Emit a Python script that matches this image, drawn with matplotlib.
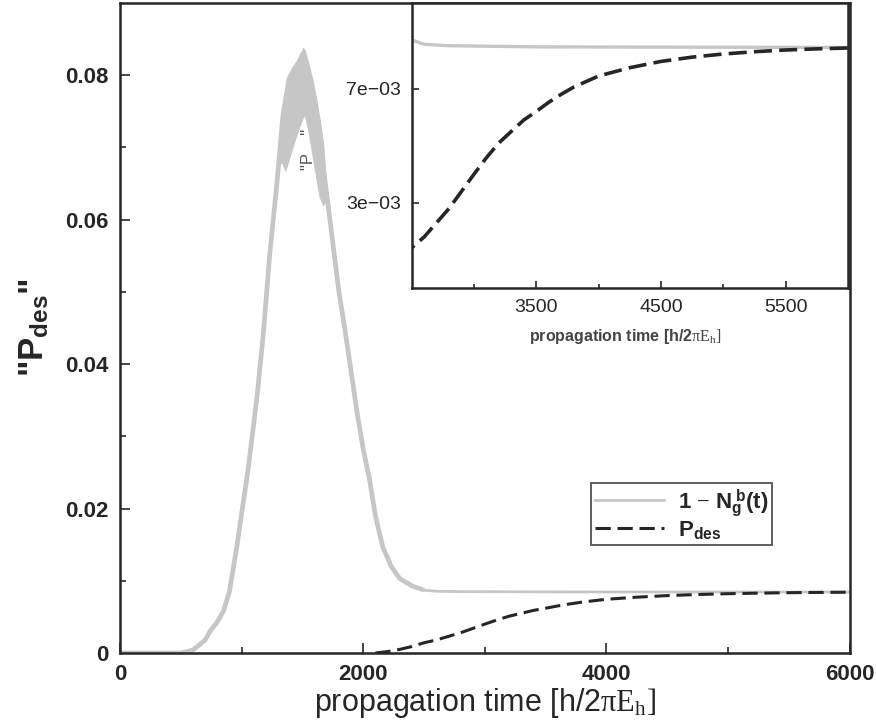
import numpy as np
import matplotlib
matplotlib.use("Agg")
import matplotlib.pyplot as plt

# ---------------------------------------------------------------------------
# data
# ---------------------------------------------------------------------------

# 1 - N_g^b(t), centre of the grey curve
t_gray = [0, 500, 600, 700, 740, 800, 850, 900, 960, 1000, 1050, 1100, 1130,
          1180, 1230, 1290, 1340, 1390, 1430, 1470, 1505, 1540, 1580, 1620,
          1660, 1700, 1726, 1800, 1850, 1900, 1950, 2000, 2050, 2100, 2160,
          2230, 2300, 2400, 2500, 2600, 2800, 3500, 4500, 6000]
v_gray = [0.0, 0.0, 0.0004, 0.0018, 0.0030, 0.0043, 0.0058, 0.0085, 0.0147,
          0.0193, 0.0250, 0.0318, 0.0360, 0.0445, 0.0550, 0.0650, 0.0745,
          0.0795, 0.0808, 0.0818, 0.0830, 0.0810, 0.0780, 0.0740, 0.0685,
          0.0635, 0.0600, 0.0500, 0.0447, 0.0390, 0.0332, 0.0282, 0.0242,
          0.0190, 0.0147, 0.0120, 0.0103, 0.0093, 0.0087, 0.00855, 0.0085,
          0.00846, 0.00845, 0.00844]

# oscillation band round the peak (upper / lower envelope)
t_band = [1300, 1330, 1360, 1400, 1440, 1480, 1505, 1520, 1550, 1580, 1610,
          1640, 1670, 1700]
band_hi = [0.0675, 0.0735, 0.0780, 0.0800, 0.0810, 0.0822, 0.0838, 0.0834,
           0.0815, 0.0795, 0.0770, 0.0740, 0.0705, 0.0640]
band_lo = [0.0675, 0.0680, 0.0668, 0.0690, 0.0712, 0.0732, 0.0742, 0.0745,
           0.0722, 0.0692, 0.0662, 0.0632, 0.0620, 0.0630]

# P_des
t_des = [2100, 2200, 2300, 2400, 2500, 2600, 2700, 2800, 2900, 3000, 3100,
         3200, 3300, 3400, 3500, 3600, 3700, 3800, 4000, 4250, 4500, 4750,
         5000, 5250, 5500, 5750, 6000]
v_des = [0.0, 0.0002, 0.0005, 0.0009, 0.00142, 0.0018, 0.0023, 0.0028,
         0.0034, 0.0040, 0.00458, 0.0051, 0.0055, 0.0059, 0.0062, 0.00652,
         0.0068, 0.00705, 0.00744, 0.00773, 0.00795, 0.0081, 0.00821,
         0.00829, 0.00835, 0.00839, 0.00842]

main_xticks = [0, 2000, 4000, 6000]
main_yticks = [0, 0.02, 0.04, 0.06, 0.08]
main_yticklabels = ["0", "0.02", "0.04", "0.06", "0.08"]
inset_xticks = [3500, 4500, 5500]
inset_yticks = [3e-3, 7e-3]
inset_yticklabels = ["3e\u221203", "7e\u221203"]

# ---------------------------------------------------------------------------

plt.rcParams["font.family"] = ["Liberation Sans", "DejaVu Sans"]
plt.rcParams["mathtext.fontset"] = "custom"
plt.rcParams["mathtext.rm"] = "Liberation Serif"
plt.rcParams["mathtext.it"] = "Liberation Serif:italic"
plt.rcParams["mathtext.bf"] = "Liberation Sans:bold"
plt.rcParams["mathtext.sf"] = "Liberation Sans"

grey = "#c6c6c6"
ink = "#262626"

t_gray = np.array(t_gray)
v_gray = np.array(v_gray)
thick = t_gray <= 2500
thin = t_gray >= 2500

fig = plt.figure(figsize=(8.76, 7.28), dpi=100)
fig.patch.set_facecolor("white")

# main axes
ax = fig.add_axes([0.137, 0.103, 0.833, 0.893])
ax.fill_between(t_band, band_lo, band_hi, color=grey, lw=0.8, ec=grey,
                zorder=2)
ax.plot(t_gray[thick], v_gray[thick], color=grey, lw=3.4,
        solid_capstyle="butt", solid_joinstyle="round", zorder=2)
ax.plot(t_gray[thin], v_gray[thin], color=grey, lw=2.0, zorder=2,
        label=r"1 $-$ N$_\mathbf{g}^{\ \mathbf{b}}$(t)")
ax.plot(t_des, v_des, color=ink, lw=2.2, dashes=(5, 2.2), zorder=3,
        label=r"P$_\mathbf{des}$")

ax.set_xlim(0, 6000)
ax.set_ylim(0, 0.09)
ax.set_xticks(main_xticks)
ax.set_xticks([1000, 3000, 5000], minor=True)
ax.set_yticks(main_yticks)
ax.set_yticklabels(main_yticklabels)
ax.set_yticks([0.01, 0.03, 0.05, 0.07], minor=True)
ax.tick_params(which="both", direction="in", top=False, right=False,
               colors=ink, width=1.2)
ax.tick_params(which="major", length=7, labelsize=16, pad=8)
ax.tick_params(which="minor", length=4)
for lab in ax.get_xticklabels() + ax.get_yticklabels():
    lab.set_fontweight("bold")
for sp in ax.spines.values():
    sp.set_linewidth(1.8)
    sp.set_color(ink)

ax.set_xlabel(r"propagation time [h/2$\mathrm{\pi E_h]}$", fontsize=22,
              color=ink)
ax.xaxis.set_label_coords(0.5, -0.05)
ax.set_ylabel(r'"P$_\mathbf{des}$"', fontsize=25, fontweight="bold",
              color=ink)
ax.yaxis.set_label_coords(-0.094, 0.5)

leg = ax.legend(loc="upper left", bbox_to_anchor=(591 / 876, 1 - 483 / 728),
                bbox_transform=fig.transFigure, borderaxespad=0,
                fancybox=False, frameon=True, handlelength=3.1,
                handletextpad=0.6, labelspacing=0.0, borderpad=0.2,
                prop={"size": 16, "weight": "bold"})
leg.get_frame().set_edgecolor(ink)
leg.get_frame().set_linewidth(1.3)
for txt in leg.get_texts():
    txt.set_color(ink)

# inset
axi = fig.add_axes([0.470, 0.604, 0.498, 0.392])
axi.set_facecolor("white")
axi.plot(t_gray, v_gray, color=grey, lw=2.4)
axi.plot(t_des, v_des, color=ink, lw=2.6, dashes=(5, 2.0))
axi.set_xlim(2500, 6000)
axi.set_ylim(0, 0.01)
axi.set_xticks(inset_xticks)
axi.set_xticks([3000, 4000, 5000], minor=True)
axi.set_yticks(inset_yticks)
axi.set_yticklabels(inset_yticklabels)
axi.tick_params(which="both", direction="in", top=False, right=False,
                colors=ink, width=1.2)
axi.tick_params(which="major", length=5, labelsize=14, pad=8)
axi.tick_params(which="minor", length=3)
for sp in axi.spines.values():
    sp.set_linewidth(1.8)
    sp.set_color(ink)
axi.set_xlabel(r"propagation time [h/2$\mathrm{\pi E_h]}$", fontsize=11.5,
               fontweight="bold", color="#444444")
axi.xaxis.set_label_coords(0.49, -0.135)
axi.set_ylabel('"P    "', fontsize=12, color="#555555")
axi.yaxis.set_label_coords(-0.22, 0.485)

fig.savefig("out.png", dpi=100, facecolor="white")
